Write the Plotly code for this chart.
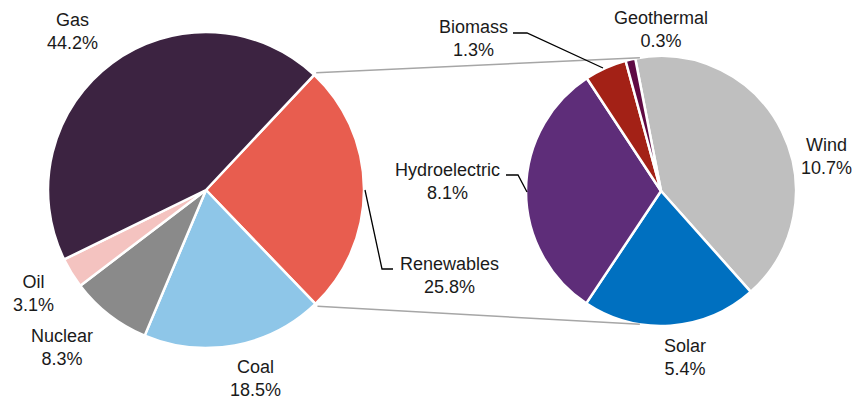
import math
import plotly.graph_objects as go

# Electricity generation mix (%), main pie
main_labels = ["Renewables", "Coal", "Nuclear", "Oil", "Gas"]
main_values = [25.8, 18.5, 8.3, 3.1, 44.2]
main_colors = ["#E85D4F", "#8EC6E8", "#8A8A8A", "#F4C3C0", "#3C2341"]

# Breakdown of renewables (%), secondary pie
ren_labels = ["Wind", "Solar", "Hydroelectric", "Biomass", "Geothermal"]
ren_values = [10.7, 5.4, 8.1, 1.3, 0.3]
ren_colors = ["#BFBFBF", "#0070C0", "#5E2D79", "#A32116", "#5F0A43"]

W, H = 867, 400
FONT = "Liberation Sans, Arial, sans-serif"

# pie geometry in pixels (centre x, centre y from top, radius)
L_CX, L_CY, L_R = 206, 190, 158
R_CX, R_CY, R_R = 661, 191, 135
L_ROT = 43.2
R_ROT = -11.0


def domain(cx, cy, r):
    return dict(x=[(cx - r) / W, (cx + r) / W],
                y=[(H - cy - r) / H, (H - cy + r) / H])


def edge(cx, cy, r, ang):
    a = math.radians(ang)
    return cx + r * math.sin(a), cy - r * math.cos(a)


fig = go.Figure()
fig.add_trace(go.Pie(
    labels=main_labels, values=main_values, sort=False, direction="clockwise",
    rotation=L_ROT, textinfo="none", hoverinfo="label+value",
    marker=dict(colors=main_colors, line=dict(color="white", width=2.5)),
    domain=domain(L_CX, L_CY, L_R), showlegend=False))
fig.add_trace(go.Pie(
    labels=ren_labels, values=ren_values, sort=False, direction="clockwise",
    rotation=R_ROT, textinfo="none", hoverinfo="label+value",
    marker=dict(colors=ren_colors, line=dict(color="white", width=2.5)),
    domain=domain(R_CX, R_CY, R_R), showlegend=False))

# connector lines between the renewables slice and the secondary pie
ren_span = main_values[0] / sum(main_values) * 360
p1 = edge(L_CX, L_CY, L_R + 3, L_ROT)
p2 = edge(L_CX, L_CY, L_R + 3, L_ROT + ren_span)
q1 = edge(R_CX, R_CY, R_R, -9)
q2 = edge(R_CX, R_CY, R_R, 189)
shapes = [
    dict(type="line", x0=p1[0], y0=p1[1], x1=q1[0], y1=q1[1],
         line=dict(color="#A6A6A6", width=1.5)),
    dict(type="line", x0=p2[0], y0=p2[1], x1=q2[0], y1=q2[1],
         line=dict(color="#A6A6A6", width=1.5)),
]

# leader lines
def leader(pts):
    path = "M " + " L ".join(f"{x},{y}" for x, y in pts)
    return dict(type="path", path=path, line=dict(color="black", width=1.3))

shapes.append(leader([(365, 190), (382, 269), (393, 269)]))
shapes.append(leader([(506, 175), (518, 175), (527, 192)]))
shapes.append(leader([(513, 33), (527, 33), (603, 68)]))

# slice labels: (text, centre x, centre y of the two-line block)
all_labels = main_labels + ren_labels
all_values = main_values + ren_values
label_pos = {
    "Gas": (72, 31), "Renewables": (449, 275), "Coal": (255, 378),
    "Nuclear": (62, 347), "Oil": (33, 293),
    "Wind": (826, 156), "Solar": (685, 357), "Hydroelectric": (447, 181),
    "Biomass": (473, 38), "Geothermal": (661, 29),
}
annotations = []
for name, val in zip(all_labels, all_values):
    x, y = label_pos[name]
    annotations.append(dict(
        x=x, y=y, xref="x", yref="y", showarrow=False,
        text=f"{name}<br>{val:.1f}%", align="center",
        font=dict(family=FONT, size=18, color="#1a1a1a")))

fig.update_layout(
    width=W, height=H, margin=dict(l=0, r=0, t=0, b=0),
    paper_bgcolor="white", plot_bgcolor="rgba(0,0,0,0)",
    xaxis=dict(range=[0, W], visible=False, fixedrange=True),
    yaxis=dict(range=[H, 0], visible=False, fixedrange=True),
    shapes=shapes, annotations=annotations,
    font=dict(family=FONT),
)

fig.write_html("out.html")
